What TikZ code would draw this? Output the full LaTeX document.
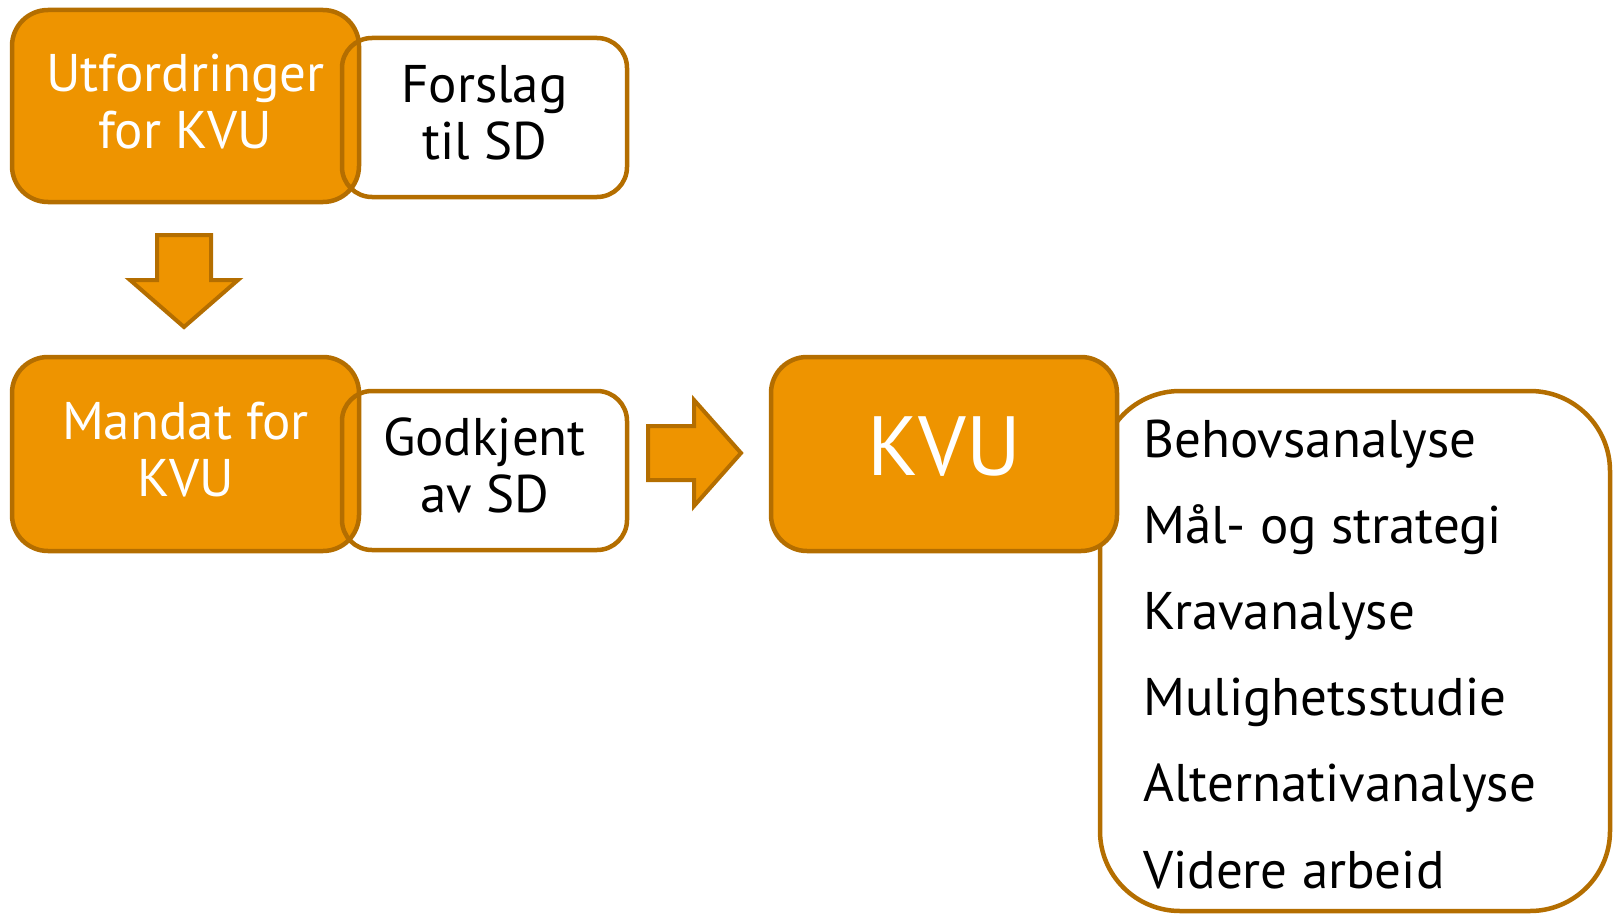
\documentclass[tikz,border=0pt]{standalone}
\usepackage{fontspec}
\setmainfont{PT Sans}
\usetikzlibrary{positioning}
\definecolor{kvuorange}{RGB}{238,148,0}
\definecolor{kvuedge}{RGB}{180,110,0}
\tikzset{orangebox/.style={draw=kvuedge, fill=kvuorange, line width=4.5pt, rounded corners=36pt,
                           text=white, align=center, inner sep=0pt, text depth=10pt,
                           font=\fontsize{53}{57}\selectfont},
         whitebox/.style={draw=kvuedge, line width=4.5pt, rounded corners=30pt, text depth=10pt,
                          align=center, inner sep=0pt, font=\fontsize{53}{57}\selectfont},
         listbox/.style={draw=kvuedge, fill=white, line width=4.5pt, rounded corners=80pt},
         listitem/.style={anchor=base west, inner sep=0pt, font=\fontsize{53}{57}\selectfont},
         blockarrow/.style={draw=kvuedge, fill=kvuorange, line width=4pt, line join=miter},
        }

\begin{document}
\begin{tikzpicture}[x=1pt,y=-1pt]
        \useasboundingbox (0,0) rectangle (1617,915);

        \node[orangebox, minimum width=347pt, minimum height=192pt](utf)at(185.5,106){Utfordringer\\for KVU};
        \node[whitebox, minimum width=285pt, minimum height=159pt](forslag)at(484.5,117.5){Forslag\\til SD};

        \draw[blockarrow](157,235)--(211,235)--(211,280)--(238,280)--(184,327)--(130,280)--(157,280)--cycle;

        \node[orangebox, minimum width=347pt, minimum height=194pt](mandat)at(185.5,454){Mandat for\\KVU};
        \node[whitebox, minimum width=285pt, minimum height=159pt](godkjent)at(484.5,470.5){Godkjent\\av SD};

        \draw[blockarrow](648,426)--(694,426)--(694,400)--(741,453)--(694,506)--(694,480)--(648,480)--cycle;

        \node[listbox, minimum width=510pt, minimum height=520pt](steps)at(1355,651){};
        \node[orangebox, minimum width=346pt, minimum height=194pt, text depth=16pt,
              font=\fontsize{84}{90}\selectfont](kvu)at(944,454){KVU};

        \foreach \txt [count=\i] in {Behovsanalyse, Mål- og strategi, Kravanalyse,
                                     Mulighetsstudie, Alternativanalyse, Videre arbeid}
            \node[listitem](item\i)at(1143,{457+86.2*(\i-1)}){\txt};
    \end{tikzpicture}
\end{document}
